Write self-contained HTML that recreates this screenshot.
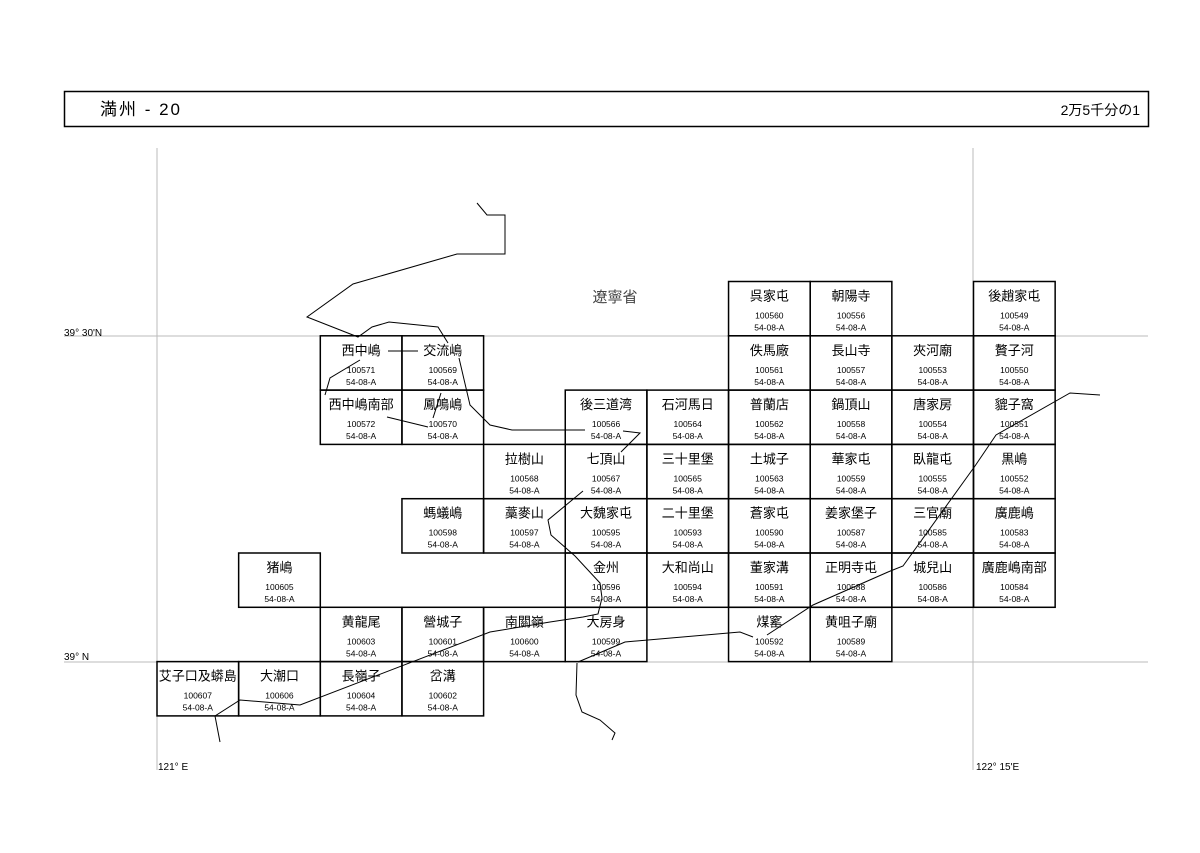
<!DOCTYPE html>
<html><head><meta charset="utf-8"><style>
body{margin:0;background:#fff;}
svg text{font-family:"Liberation Sans","Noto Sans CJK JP",sans-serif;}
</style></head><body>
<svg width="1200" height="848" viewBox="0 0 1200 848" xmlns="http://www.w3.org/2000/svg">
<rect x="64.5" y="91.5" width="1084" height="35" fill="none" stroke="#000" stroke-width="1.5"/>
<text x="100" y="115" font-size="17" fill="#000" letter-spacing="2">満州 - 20</text>
<text x="1140" y="115" font-size="14" text-anchor="end" fill="#000">2万5千分の1</text>
<g stroke="#bbb" stroke-width="1">
<line x1="157" y1="148" x2="157" y2="770"/>
<line x1="973" y1="148" x2="973" y2="770"/>
<line x1="64" y1="336" x2="1148" y2="336"/>
<line x1="64" y1="662" x2="1148" y2="662"/>
</g>
<g font-size="10" fill="#000">
<text x="64" y="336">39° 30'N</text>
<text x="64" y="660">39° N</text>
<text x="158" y="770">121° E</text>
<text x="976" y="770">122° 15'E</text>
</g>
<text x="615" y="302" font-size="15" fill="#444" text-anchor="middle">遼寧省</text>
<g id="cells"></g>
<g fill="none" stroke="#000" stroke-width="1">
<polyline points="477,203 487,215 505,215 505,254 457,254 353,284 307,317 358,337 372,327 389,322 438,327 448,343"/>
<polyline points="459,358 470,405 490,425 512,430 585,430"/>
<polyline points="388,351 418,351"/>
<polyline points="360,360 330,378 325,395"/>
<polyline points="387,417 428,427"/>
<polyline points="441,393 433,418"/>
<polyline points="623,431 640,433 621,452"/>
<polyline points="583,491 548,520 551,535 575,556 600,583 602,598 598,614 583,617 550,622 490,632 300,705 240,700 215,716 220,742"/>
<polyline points="578,662 625,642 740,632 753,637"/>
<polyline points="577,663 576,695 582,712 600,720 615,733 612,740"/>
<polyline points="767,635 813,605 888,572 903,566 975,466 996,435 1070,393 1100,395"/>
</g>
</svg>
<script>
var d=[
[0,7,"呉家屯","100560"],[0,8,"朝陽寺","100556"],[0,10,"後趙家屯","100549"],
[1,2,"西中嶋","100571"],[1,3,"交流嶋","100569"],[1,7,"佚馬廠","100561"],[1,8,"長山寺","100557"],[1,9,"夾河廟","100553"],[1,10,"贅子河","100550"],
[2,2,"西中嶋南部","100572"],[2,3,"鳳鳴嶋","100570"],[2,5,"後三道湾","100566"],[2,6,"石河馬日","100564"],[2,7,"普蘭店","100562"],[2,8,"鍋頂山","100558"],[2,9,"唐家房","100554"],[2,10,"貔子窩","100551"],
[3,4,"拉樹山","100568"],[3,5,"七頂山","100567"],[3,6,"三十里堡","100565"],[3,7,"土城子","100563"],[3,8,"華家屯","100559"],[3,9,"臥龍屯","100555"],[3,10,"黒嶋","100552"],
[4,3,"螞蟻嶋","100598"],[4,4,"藁麥山","100597"],[4,5,"大魏家屯","100595"],[4,6,"二十里堡","100593"],[4,7,"蒼家屯","100590"],[4,8,"姜家堡子","100587"],[4,9,"三官廟","100585"],[4,10,"廣鹿嶋","100583"],
[5,1,"猪嶋","100605"],[5,5,"金州","100596"],[5,6,"大和尚山","100594"],[5,7,"董家溝","100591"],[5,8,"正明寺屯","100588"],[5,9,"城兒山","100586"],[5,10,"廣鹿嶋南部","100584"],
[6,2,"黄龍尾","100603"],[6,3,"營城子","100601"],[6,4,"南關嶺","100600"],[6,5,"大房身","100599"],[6,7,"煤窰","100592"],[6,8,"黄咀子廟","100589"],
[7,0,"艾子口及蟒島","100607"],[7,1,"大潮口","100606"],[7,2,"長嶺子","100604"],[7,3,"岔溝","100602"]];
var g=document.getElementById("cells"),s="";
d.forEach(function(e){var x=157+e[1]*81.65,y=281.5+e[0]*54.3,cx=x+40.8;
s+='<rect x="'+x+'" y="'+y+'" width="81.65" height="54.3" fill="none" stroke="#000" stroke-width="1.5"/>';
s+='<text x="'+cx+'" y="'+(y+19)+'" font-size="13" text-anchor="middle">'+e[2]+'</text>';
s+='<text x="'+cx+'" y="'+(y+37)+'" font-size="8.5" text-anchor="middle">'+e[3]+'</text>';
s+='<text x="'+cx+'" y="'+(y+49)+'" font-size="8.5" text-anchor="middle">54-08-A</text>';});
g.innerHTML=s;
</script>
</body></html>
